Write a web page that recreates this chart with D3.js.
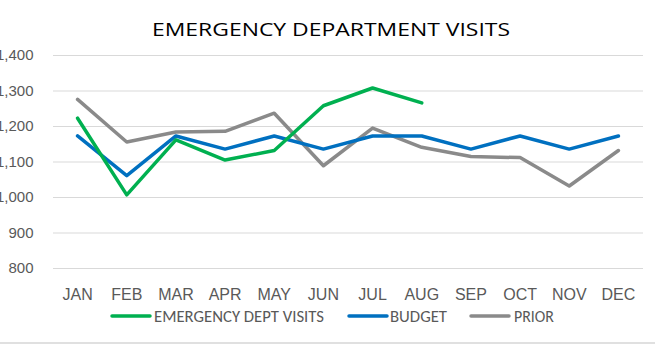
<!DOCTYPE html>
<html>
<head>
<meta charset="utf-8">
<script src="https://cdn.jsdelivr.net/npm/d3@7"></script>
<style>
  html, body { margin: 0; padding: 0; background: #fff; }
  svg { display: block; font-family: Carlito, "Liberation Sans Narrow", "Liberation Sans", sans-serif; }
</style>
</head>
<body>
<div id="chart"></div>
<script>
const months = ['JAN', 'FEB', 'MAR', 'APR', 'MAY', 'JUN', 'JUL', 'AUG', 'SEP', 'OCT', 'NOV', 'DEC'];
const edVisits = [1222, 1006, 1161, 1104, 1131, 1257, 1307, 1265];
const budget = [1172, 1060, 1172, 1135, 1172, 1135, 1172, 1172, 1135, 1172, 1135, 1172];
const prior = [1275, 1155, 1183, 1185, 1236, 1088, 1194, 1140, 1114, 1111, 1031, 1131];
const yTicks = [800, 900, 1000, 1100, 1200, 1300, 1400];

const series = [
    { name: 'EMERGENCY DEPT VISITS', values: edVisits, color: '#00b050' },
    { name: 'BUDGET', values: budget, color: '#0070c0' },
    { name: 'PRIOR', values: prior, color: '#8a8a8a' }
];

const width = 655;
const height = 352;
const plot = { left: 53, right: 643, top: 55, bottom: 268 };

const svg = d3.select('#chart')
    .append('svg')
    .attr('width', width)
    .attr('height', height);

const x = d3.scaleBand()
    .domain(months)
    .range([plot.left, plot.right]);

const y = d3.scaleLinear()
    .domain([800, 1400])
    .range([plot.bottom, plot.top]);

// title (the source image is a bit stretched sideways)
svg.append('text')
    .attr('x', 152)
    .attr('y', 36)
    .attr('font-family', '"Open Sans", sans-serif')
    .attr('font-weight', 400)
    .attr('font-size', '18.5px')
    .attr('fill', '#000')
    .attr('textLength', 358)
    .attr('lengthAdjust', 'spacingAndGlyphs')
    .text('EMERGENCY DEPARTMENT VISITS');

// gridlines + y labels
const yAxis = d3.axisLeft(y)
    .tickValues(yTicks)
    .tickSize(-(plot.right - plot.left))
    .tickPadding(19.5)
    .tickFormat(d3.format(','));

svg.append('g')
    .attr('class', 'y-axis')
    .attr('transform', `translate(${plot.left},0)`)
    .call(yAxis)
    .call(g => g.select('.domain').remove())
    .call(g => g.selectAll('.tick line').attr('stroke', '#d9d9d9').attr('stroke-width', 1))
    .call(g => g.selectAll('.tick text')
        .attr('fill', '#595959')
        .attr('font-size', '15px')
        .attr('font-family', null));

// x labels
const xAxis = d3.axisBottom(x).tickSize(0).tickPadding(0);
svg.append('g')
    .attr('class', 'x-axis')
    .attr('transform', `translate(0,${plot.bottom + 21})`)
    .call(xAxis)
    .call(g => g.select('.domain').remove())
    .call(g => g.selectAll('.tick text')
        .attr('fill', '#595959')
        .attr('font-size', '16px')
        .attr('font-family', null));

const line = d3.line()
    .x((d, i) => x(months[i]) + x.bandwidth() / 2)
    .y(d => y(d));

series.slice().reverse().forEach(s => {
    svg.append('path')
        .datum(s.values)
        .attr('fill', 'none')
        .attr('stroke', s.color)
        .attr('stroke-width', 3.5)
        .attr('stroke-linejoin', 'round')
        .attr('stroke-linecap', 'round')
        .attr('d', line);
});

// legend
const legendItems = [
    { x: 112, textX: 154, textW: 170 },
    { x: 349, textX: 390, textW: 57 },
    { x: 471, textX: 514, textW: 40 }
];
const legend = svg.append('g').attr('class', 'legend');
series.forEach((s, i) => {
    const item = legend.append('g');
    item.append('line')
        .attr('x1', legendItems[i].x)
        .attr('x2', legendItems[i].x + 38)
        .attr('y1', 316)
        .attr('y2', 316)
        .attr('stroke', s.color)
        .attr('stroke-width', 3.5)
        .attr('stroke-linecap', 'round');
    item.append('text')
        .attr('x', legendItems[i].textX)
        .attr('y', 321.5)
        .attr('font-size', '15.5px')
        .attr('fill', '#595959')
        .attr('textLength', legendItems[i].textW)
        .attr('lengthAdjust', 'spacingAndGlyphs')
        .text(s.name);
});

// chart area bottom border
svg.append('line')
    .attr('x1', 0)
    .attr('x2', width)
    .attr('y1', 343)
    .attr('y2', 343)
    .attr('stroke', '#e0e0e0')
    .attr('stroke-width', 2);
</script>
</body>
</html>
